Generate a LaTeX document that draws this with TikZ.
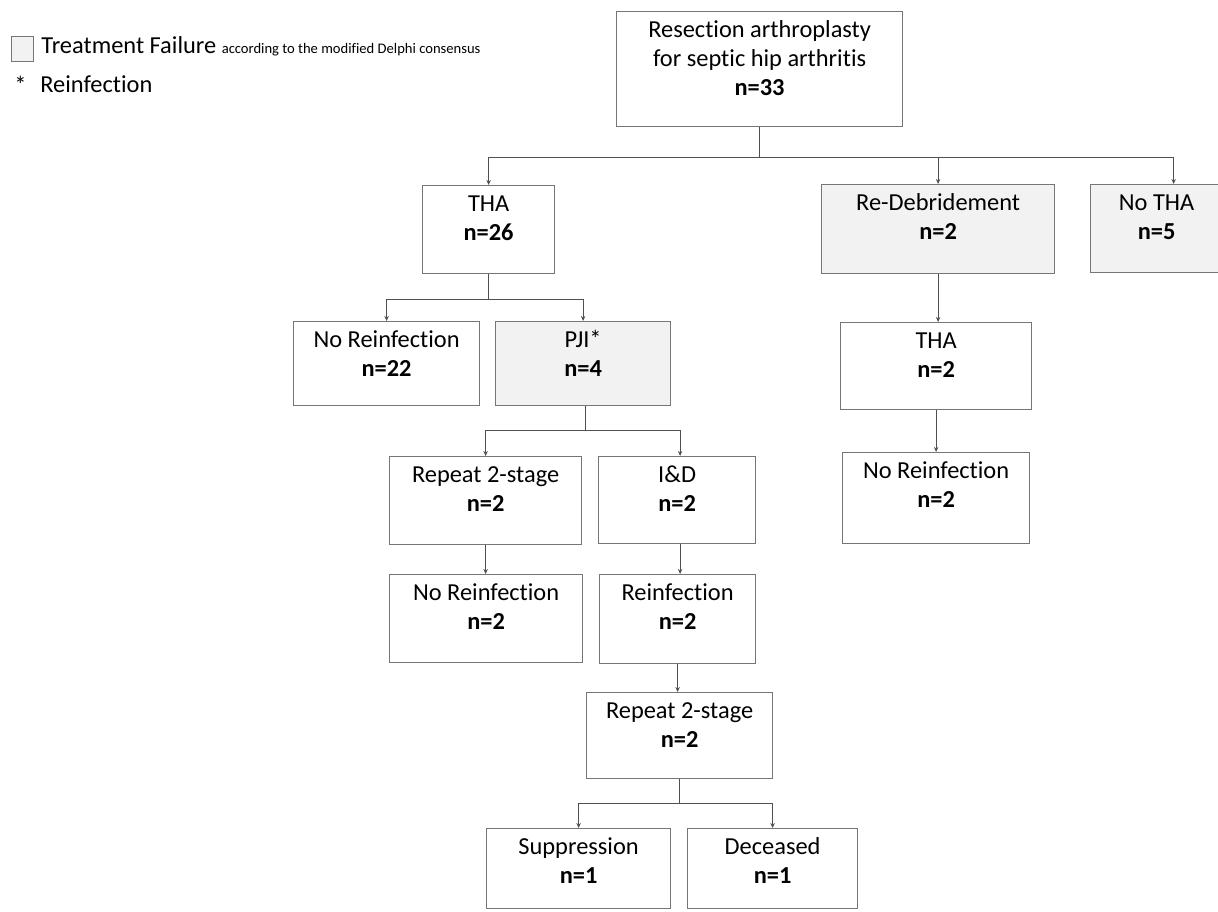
\documentclass[tikz,border=0pt]{standalone}
\usepackage{fontspec}
\setmainfont{Carlito}[Ligatures=NoCommon]
\usetikzlibrary{arrows.meta,positioning,calc}

\definecolor{boxgray}{HTML}{F2F2F2}
\definecolor{linegray}{HTML}{767676}
\definecolor{conngray}{HTML}{505050}

\tikzset{
  box/.style={draw=linegray, line width=0.6pt, anchor=north west, inner sep=0pt},
  fail/.style={box, fill=boxgray},
  txt/.style={anchor=north, align=center, inner sep=2.85pt, font=\fontsize{12.2}{14.5}\selectfont},
  conn/.style={conngray, line width=0.5pt, -{Stealth[length=2.5pt,width=2.2pt]}},
  legtxt/.style={anchor=base west, inner sep=0pt, font=\fontsize{12.2}{14.5}\selectfont}
}

\begin{document}
\begin{tikzpicture}[x=0.5pt, y=-0.5pt]

\useasboundingbox (0,0) rectangle (1218,911);

% legend
\node[fail, minimum width=11pt, minimum height=12.5pt] (legbox) at (11,36) {};
\node[legtxt] (legfail) at (41,53) {Treatment Failure {\fontsize{7.3}{9}\selectfont according to the modified Delphi consensus}};
\node[legtxt] (legstar) at (14,93) {*};
\node[legtxt] (legreinf) at (40,92) {Reinfection};

% first level
\node[box, minimum width=143pt, minimum height=57.5pt,
  label={[txt]north:{\strut Resection arthroplasty\\for septic hip arthritis\\\textbf{n=33}}}
  ] (root) at (616,11) {};

\node[box, minimum width=66pt, minimum height=44pt,
  label={[txt]north:{\strut THA\\\textbf{n=26}}}
  ] (tha) at (422,185) {};
\node[fail, minimum width=116.5pt, minimum height=44.5pt,
  label={[txt]north:{\strut Re-Debridement\\\textbf{n=2}}}
  ] (redeb) at (821,184) {};
\node[fail, minimum width=66pt, minimum height=44pt,
  label={[txt]north:{\strut No THA\\\textbf{n=5}}}
  ] (notha) at (1090,184) {};

% THA branch
\node[box, minimum width=93pt, minimum height=42pt,
  label={[txt]north:{\strut No Reinfection\\\textbf{n=22}}}
  ] (noreinfA) at (293,321) {};
\node[fail, minimum width=87.5pt, minimum height=42pt,
  label={[txt]north:{\strut PJI*\\\textbf{n=4}}}
  ] (pji) at (495,321) {};

\node[box, minimum width=96pt, minimum height=44pt,
  label={[txt]north:{\strut Repeat 2-stage\\\textbf{n=2}}}
  ] (repA) at (389,456) {};
\node[box, minimum width=78.5pt, minimum height=43.5pt,
  label={[txt]north:{\strut I\&D\\\textbf{n=2}}}
  ] (ind) at (598,456) {};

\node[box, minimum width=96.5pt, minimum height=44pt,
  label={[txt]north:{\strut No Reinfection\\\textbf{n=2}}}
  ] (noreinfB) at (389,574) {};
\node[box, minimum width=78pt, minimum height=44.5pt,
  label={[txt]north:{\strut Reinfection\\\textbf{n=2}}}
  ] (reinf) at (599,574) {};

\node[box, minimum width=93pt, minimum height=43pt,
  label={[txt]north:{\strut Repeat 2-stage\\\textbf{n=2}}}
  ] (repB) at (586,692) {};

\node[box, minimum width=92pt, minimum height=40pt,
  label={[txt]north:{\strut Suppression\\\textbf{n=1}}}
  ] (supp) at (486,828) {};
\node[box, minimum width=85pt, minimum height=40pt,
  label={[txt]north:{\strut Deceased\\\textbf{n=1}}}
  ] (dec) at (687,828) {};

% Re-Debridement branch
\node[box, minimum width=95.5pt, minimum height=43.5pt,
  label={[txt]north:{\strut THA\\\textbf{n=2}}}
  ] (thaB) at (840,322) {};
\node[box, minimum width=93.5pt, minimum height=45.5pt,
  label={[txt]north:{\strut No Reinfection\\\textbf{n=2}}}
  ] (noreinfC) at (842,452) {};

% connectors
\draw[conn] (root.south) -- ++(0,30) -| (tha.north);
\draw[conn] (root.south) -- ++(0,30) -| (redeb.north);
\draw[conn] (root.south) -- ++(0,30) -| ([xshift=8.5pt]notha.north);

\draw[conn] (tha.south) -- ++(0,25) -| (noreinfA.north);
\draw[conn] (tha.south) -- ++(0,25) -| (pji.north);

\draw[conn] ([xshift=1.25pt]pji.south) -- ++(0,24) -| (repA.north);
\draw[conn] ([xshift=1.25pt]pji.south) -- ++(0,24) -| ([xshift=1.5pt]ind.north);

\draw[conn] (repA.south) -- (repA.south |- noreinfB.north);
\draw[conn] ([xshift=1.5pt]ind.south) -- ([xshift=1.5pt]ind.south |- reinf.north);
\draw[conn] (reinf.south) -- (reinf.south |- repB.north);

\draw[conn] (repB.south) -- ++(0,24) -| (supp.north);
\draw[conn] (repB.south) -- ++(0,24) -| (dec.north);

\draw[conn] (redeb.south) -- (redeb.south |- thaB.north);
\draw[conn] (thaB.south) -- (thaB.south |- noreinfC.north);

\end{tikzpicture}
\end{document}
